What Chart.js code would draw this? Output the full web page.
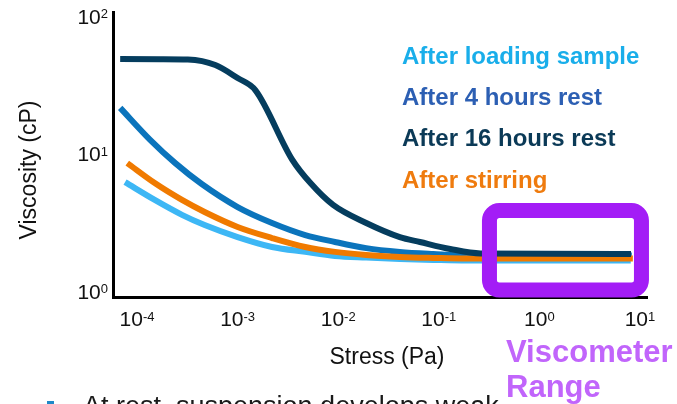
<!DOCTYPE html>
<html>
<head>
<meta charset="utf-8">
<script src="https://cdn.jsdelivr.net/npm/chart.js@4.4.1/dist/chart.umd.min.js"></script>
<style>
  html, body { margin: 0; padding: 0; background: #fff; }
  #wrap { width: 677px; height: 404px; }
</style>
</head>
<body>
<div id="wrap"><canvas id="viscChart"></canvas></div>
<script>
// Flow curves: stress (Pa) against viscosity (cP)
const seriesNames = ["After loading sample", "After 4 hours rest", "After 16 hours rest", "After stirring"];

const loadingStress = [7.6e-5, 1.5e-4, 2.8e-4, 4.7e-4, 1.0e-3, 2.2e-3, 4.7e-3, 9.3e-3, 0.019, 0.041, 0.088, 0.19, 8.1];
const loadingVisc = [6.4, 4.75, 3.7, 3.12, 2.55, 2.16, 1.99, 1.86, 1.81, 1.77, 1.74, 1.72, 1.72];

const rest4Stress = [6.8e-5, 1.35e-4, 2.4e-4, 4.4e-4, 1.0e-3, 2.2e-3, 4.7e-3, 9.3e-3, 0.019, 0.041, 0.088, 0.19, 8.3];
const rest4Visc = [22.2, 13.0, 8.8, 6.2, 4.22, 3.23, 2.64, 2.35, 2.12, 1.99, 1.92, 1.87, 1.87];

const rest16Stress = [6.8e-5, 1.7e-4, 3.2e-4, 6.0e-4, 1.0e-3, 1.5e-3, 3.5e-3, 5.3e-3, 8.9e-3, 0.019, 0.041, 0.065, 0.13, 0.26, 8.15];
const rest16Visc = [50.3, 50.2, 49.9, 45.5, 36.6, 29.9, 9.3, 6.3, 4.37, 3.23, 2.55, 2.35, 2.09, 1.94, 1.92];

const stirStress = [8.0e-5, 1.5e-4, 2.8e-4, 4.7e-4, 1.0e-3, 2.2e-3, 4.7e-3, 9.3e-3, 0.019, 0.041, 0.088, 0.19, 8.5];
const stirVisc = [8.8, 6.3, 4.75, 3.88, 3.02, 2.51, 2.16, 1.99, 1.89, 1.83, 1.8, 1.78, 1.78];

const xTicks = [1e-4, 1e-3, 1e-2, 1e-1, 1e0, 1e1];
const yTicks = [1e0, 1e1, 1e2];

// stress window the viscometer can cover
const rangeStress = [0.319, 10.35];
const rangeVisc = [1.05, 3.98];

const lineColors = ["#3db7f5", "#0b74bc", "#053d5e", "#f07a00"];
const textColors = ["#19aeea", "#2c5fb3", "#0b3a57", "#ef7b0e"];

function toPoints(xs, ys) {
  return xs.map((x, i) => ({ x: x, y: ys[i] }));
}

const FONT = '"Liberation Sans", Arial, sans-serif';

// "10" with a raised exponent, centred on px or right-aligned at px
function drawPower(ctx, value, px, py, mode) {
  const exp = String(Math.round(Math.log10(value)));
  ctx.font = "21px " + FONT;
  const bw = ctx.measureText("10").width;
  ctx.font = "13px " + FONT;
  const ew = ctx.measureText(exp).width;
  const left = mode === "center" ? px - (bw + ew) / 2 : px - bw - ew;
  ctx.textAlign = "left";
  ctx.font = "21px " + FONT;
  ctx.textBaseline = "middle";
  ctx.fillText("10", left, py);
  ctx.font = "13px " + FONT;
  ctx.textBaseline = "top";
  ctx.fillText(exp, left + bw, py - 10);
}

const annotations = {
  id: "annotations",
  afterDraw(chart) {
    const { ctx, scales: { x, y } } = chart;
    ctx.save();
    ctx.fillStyle = "#111";

    x.ticks.forEach((t) => drawPower(ctx, t.value, x.getPixelForValue(t.value), 320.5, "center"));
    y.ticks.forEach((t) => drawPower(ctx, t.value, 108, y.getPixelForValue(t.value), "right"));

    // axis titles
    ctx.font = "23px " + FONT;
    ctx.textAlign = "center";
    ctx.textBaseline = "alphabetic";
    ctx.fillText("Stress (Pa)", 387, 363.5);
    ctx.save();
    ctx.translate(35.5, 170);
    ctx.rotate(-Math.PI / 2);
    ctx.fillText("Viscosity (cP)", 0, 0);
    ctx.restore();

    // coloured series names
    ctx.font = "bold 24px " + FONT;
    ctx.textAlign = "left";
    const baselines = [64, 105, 146, 188];
    seriesNames.forEach((name, i) => {
      ctx.fillStyle = textColors[i];
      ctx.fillText(name, 402, baselines[i]);
    });

    // viscometer range box
    const bx1 = x.getPixelForValue(rangeStress[0]);
    const bx2 = x.getPixelForValue(rangeStress[1]);
    const by1 = y.getPixelForValue(rangeVisc[1]);
    const by2 = y.getPixelForValue(rangeVisc[0]);
    ctx.strokeStyle = "#a31df6";
    ctx.lineWidth = 15;
    ctx.beginPath();
    ctx.roundRect(bx1, by1, bx2 - bx1, by2 - by1, 10);
    ctx.stroke();

    // bullet line below the chart
    ctx.fillStyle = "#1e88c8";
    ctx.fillRect(47, 401, 7, 3);
    ctx.fillStyle = "#1a1a1a";
    ctx.font = "27px " + FONT;
    ctx.fillText("At rest, suspension develops weak", 83, 415);

    ctx.fillStyle = "#c165fb";
    ctx.font = "bold 31px " + FONT;
    ctx.fillText("Viscometer", 506, 361.5);
    ctx.fillText("Range", 506, 397);
    ctx.restore();
  },
};

const stressData = [loadingStress, rest4Stress, rest16Stress, stirStress];
const viscData = [loadingVisc, rest4Visc, rest16Visc, stirVisc];
const drawOrder = [3, 2, 0, 1];

new Chart(document.getElementById("viscChart"), {
  type: "line",
  data: {
    datasets: seriesNames.map((name, i) => ({
      label: name,
      data: toPoints(stressData[i], viscData[i]),
      borderColor: lineColors[i],
      borderWidth: 6,
      pointRadius: 0,
      cubicInterpolationMode: "monotone",
      fill: false,
      order: drawOrder[i],
    })),
  },
  options: {
    responsive: true,
    maintainAspectRatio: false,
    animation: false,
    layout: {
      padding: { top: 12, right: 30, left: 0, bottom: 0 },
    },
    plugins: {
      legend: { display: false },
      tooltip: { enabled: false },
    },
    scales: {
      x: {
        type: "logarithmic",
        min: 5.77e-5,
        max: 11.75,
        grid: { display: false },
        border: { color: "#000", width: 3 },
        ticks: { display: false },
        afterBuildTicks: (scale) => {
          scale.ticks = xTicks.map((v) => ({ value: v }));
        },
        afterFit: (scale) => {
          scale.height = 107;
        },
      },
      y: {
        type: "logarithmic",
        min: 0.935,
        max: 110.6,
        grid: { display: false },
        border: { color: "#000", width: 3 },
        ticks: { display: false },
        afterBuildTicks: (scale) => {
          scale.ticks = yTicks.map((v) => ({ value: v }));
        },
        afterFit: (scale) => {
          scale.width = 113;
        },
      },
    },
  },
  plugins: [annotations],
});
</script>
</body>
</html>
